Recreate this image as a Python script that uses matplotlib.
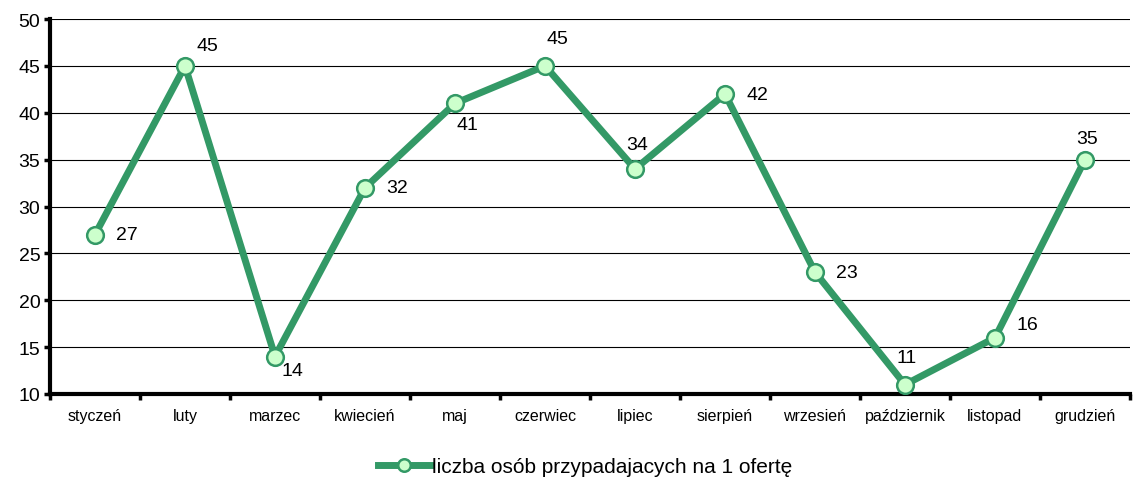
import numpy as np
import matplotlib.pyplot as plt

plt.rcParams['font.family'] = ['Liberation Sans', 'DejaVu Sans']

months = ['styczeń', 'luty', 'marzec', 'kwiecień', 'maj', 'czerwiec',
          'lipiec', 'sierpień', 'wrzesień', 'październik', 'listopad', 'grudzień']
values = [27, 45, 14, 32, 41, 45, 34, 42, 23, 11, 16, 35]
series_name = 'liczba osób przypadajacych na 1 ofertę'

# label offsets in pixels (dx, dy)
label_offsets = [(32, 0), (22, 20), (17, -14), (32, 0), (12, -21), (12, 27),
                 (2, 24), (32, 0), (32, 0), (2, 27), (32, 13), (2, 21)]

fig = plt.figure(figsize=(11.35, 4.85), dpi=100)
ax = fig.add_axes([50 / 1135, 1 - 395 / 485, 1080 / 1135, 375 / 485])

green = '#339966'
x = np.arange(len(months))
ax.plot(x, values, color=green, lw=5, marker='o', ms=12,
        mfc='#ccffcc', mec=green, mew=1.8, label=series_name, zorder=3)

for xi, v, (dx, dy) in zip(x, values, label_offsets):
    ax.annotate(str(v), (xi, v), xytext=(dx, dy), textcoords='offset pixels',
                ha='center', va='center', fontsize=14)

ax.set_xlim(-0.5, len(months) - 0.5)
ax.set_ylim(10, 50)
ax.set_yticks(np.arange(10, 51, 5))
ax.tick_params(axis='y', labelsize=14, length=4, width=2.5, pad=3)
ax.set_xticks(x)
ax.set_xticklabels(months, fontsize=11.5)
ax.tick_params(axis='x', length=0, pad=10)
ax.set_xticks(np.arange(-0.5, len(months), 1), minor=True)
ax.tick_params(axis='x', which='minor', length=4, width=2.5)
ax.grid(axis='y', color='black', lw=0.8)
ax.set_axisbelow(True)

for s in ['top', 'right']:
    ax.spines[s].set_visible(False)
for s in ['left', 'bottom']:
    ax.spines[s].set_linewidth(3)

fig.legend(loc='center', bbox_to_anchor=(585 / 1135, 1 - 468 / 485),
           frameon=False, fontsize=15, handlelength=2.5, handletextpad=0.1,
           markerscale=0.75)

fig.savefig('out.png', dpi=100)
